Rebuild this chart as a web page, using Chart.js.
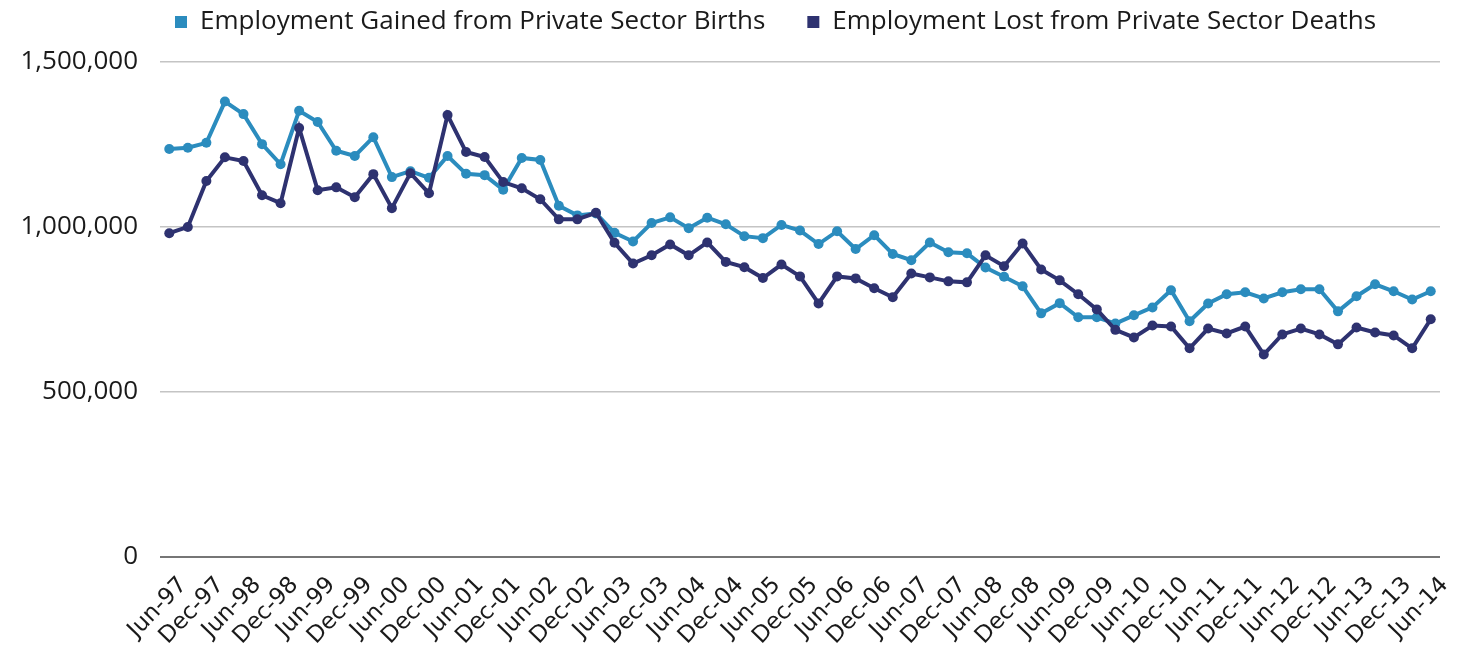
<!DOCTYPE html>
<html>
<head>
<meta charset="utf-8">
<script src="https://cdn.jsdelivr.net/npm/chart.js@4/dist/chart.umd.min.js"></script>
<style>
  html, body { margin: 0; padding: 0; background: #ffffff; overflow: hidden; }
  #wrap { position: relative; width: 1458px; height: 665px; }
</style>
</head>
<body>
<div id="wrap"><canvas id="c"></canvas></div>
<script>
const quarters = [
  'Jun-97','Sep-97','Dec-97','Mar-98','Jun-98','Sep-98','Dec-98','Mar-99','Jun-99','Sep-99','Dec-99','Mar-00',
  'Jun-00','Sep-00','Dec-00','Mar-01','Jun-01','Sep-01','Dec-01','Mar-02','Jun-02','Sep-02','Dec-02','Mar-03',
  'Jun-03','Sep-03','Dec-03','Mar-04','Jun-04','Sep-04','Dec-04','Mar-05','Jun-05','Sep-05','Dec-05','Mar-06',
  'Jun-06','Sep-06','Dec-06','Mar-07','Jun-07','Sep-07','Dec-07','Mar-08','Jun-08','Sep-08','Dec-08','Mar-09',
  'Jun-09','Sep-09','Dec-09','Mar-10','Jun-10','Sep-10','Dec-10','Mar-11','Jun-11','Sep-11','Dec-11','Mar-12',
  'Jun-12','Sep-12','Dec-12','Mar-13','Jun-13','Sep-13','Dec-13','Mar-14','Jun-14'
];

const birthsGained = [
  1236000, 1240000, 1255000, 1380000, 1342000, 1251000, 1190000, 1352000, 1318000, 1231000, 1215000, 1272000,
  1151000, 1169000, 1149000, 1215000, 1161000, 1157000, 1113000, 1209000, 1203000, 1064000, 1035000, 1041000,
  982000, 956000, 1012000, 1029000, 996000, 1028000, 1008000, 972000, 966000, 1006000, 989000, 948000,
  987000, 933000, 975000, 918000, 899000, 953000, 923000, 920000, 877000, 849000, 820000, 738000,
  769000, 726000, 726000, 707000, 732000, 756000, 808000, 714000, 768000, 796000, 802000, 783000,
  802000, 811000, 811000, 744000, 790000, 826000, 805000, 780000, 805000
];

const deathsLost = [
  981000, 1000000, 1139000, 1211000, 1200000, 1096000, 1072000, 1300000, 1111000, 1120000, 1090000, 1160000,
  1057000, 1163000, 1102000, 1339000, 1227000, 1212000, 1136000, 1117000, 1084000, 1023000, 1023000, 1043000,
  952000, 889000, 914000, 947000, 914000, 953000, 894000, 878000, 845000, 886000, 850000, 768000,
  850000, 844000, 814000, 787000, 859000, 847000, 835000, 832000, 914000, 881000, 950000, 871000,
  838000, 796000, 750000, 688000, 665000, 701000, 698000, 632000, 692000, 677000, 698000, 613000,
  674000, 692000, 674000, 644000, 695000, 680000, 671000, 632000, 720000
];

const yTicks = [0, 500000, 1000000, 1500000];

const seriesNames = ['Employment Gained from Private Sector Births', 'Employment Lost from Private Sector Deaths'];
const colorLight = '#2b8cbe';
const colorDark = '#2e3270';
const textColor = '#1a1a1a';

new Chart(document.getElementById('c'), {
  type: 'line',
  data: {
    labels: quarters,
    datasets: [
      {
        label: seriesNames[0],
        data: birthsGained,
        borderColor: colorLight,
        backgroundColor: colorLight,
        pointBackgroundColor: colorLight,
        pointBorderColor: colorLight,
        borderWidth: 4,
        pointRadius: 5,
        pointBorderWidth: 0,
        tension: 0,
        order: 2
      },
      {
        label: seriesNames[1],
        data: deathsLost,
        borderColor: colorDark,
        backgroundColor: colorDark,
        pointBackgroundColor: colorDark,
        pointBorderColor: colorDark,
        borderWidth: 4,
        pointRadius: 5,
        pointBorderWidth: 0,
        tension: 0,
        order: 1
      }
    ]
  },
  options: {
    responsive: true,
    maintainAspectRatio: false,
    animation: false,
    layout: { padding: { left: 20, right: 18, top: -6, bottom: 0 } },
    plugins: {
      tooltip: { enabled: false },
      legend: {
        position: 'top',
        align: 'start',
        fullSize: false,
        labels: {
          boxWidth: 12,
          boxHeight: 12,
          padding: 15,
          color: textColor,
          font: { family: '"Open Sans", sans-serif', size: 26 },
          generateLabels: (chart) => chart.data.datasets.map((ds, i) => ({
            text: i === 0 ? ds.label + '    ' : ds.label,
            fillStyle: ds.borderColor,
            strokeStyle: ds.borderColor,
            lineWidth: 0,
            hidden: false,
            datasetIndex: i,
            fontColor: textColor
          }))
        }
      }
    },
    scales: {
      x: {
        type: 'category',
        offset: true,
        grid: { display: false, drawTicks: false },
        border: { display: false },
        afterFit: (scale) => { scale.paddingRight = 0; },
        ticks: {
          autoSkip: false,
          minRotation: 46,
          maxRotation: 46,
          padding: 15,
          labelOffset: 14,
          color: textColor,
          font: { family: '"DejaVu Sans", sans-serif', size: 23 },
          callback: function (value, index) {
            return index % 2 === 0 ? quarters[index] : '';
          }
        }
      },
      xSpacer: {
        type: 'category',
        position: 'top',
        display: true,
        grid: { display: false, drawTicks: false },
        border: { display: false },
        ticks: { display: false },
        afterFit: (scale) => { scale.height = 17; }
      },
      y: {
        min: yTicks[0],
        max: yTicks[yTicks.length - 1],
        afterBuildTicks: (axis) => { axis.ticks = yTicks.map(v => ({ value: v })); },
        afterFit: (scale) => { scale.width = 140; },
        grid: {
          drawTicks: false,
          color: (ctx) => ctx.tick && ctx.tick.value === 0 ? '#767676' : '#c4c4c4',
          lineWidth: (ctx) => ctx.tick && ctx.tick.value === 0 ? 2 : 1.5
        },
        border: { display: false },
        ticks: {
          padding: 22,
          color: textColor,
          font: { family: '"Open Sans", sans-serif', size: 26 },
          callback: (v) => Number(v).toLocaleString('en-US')
        }
      }
    }
  }
});
</script>
</body>
</html>
